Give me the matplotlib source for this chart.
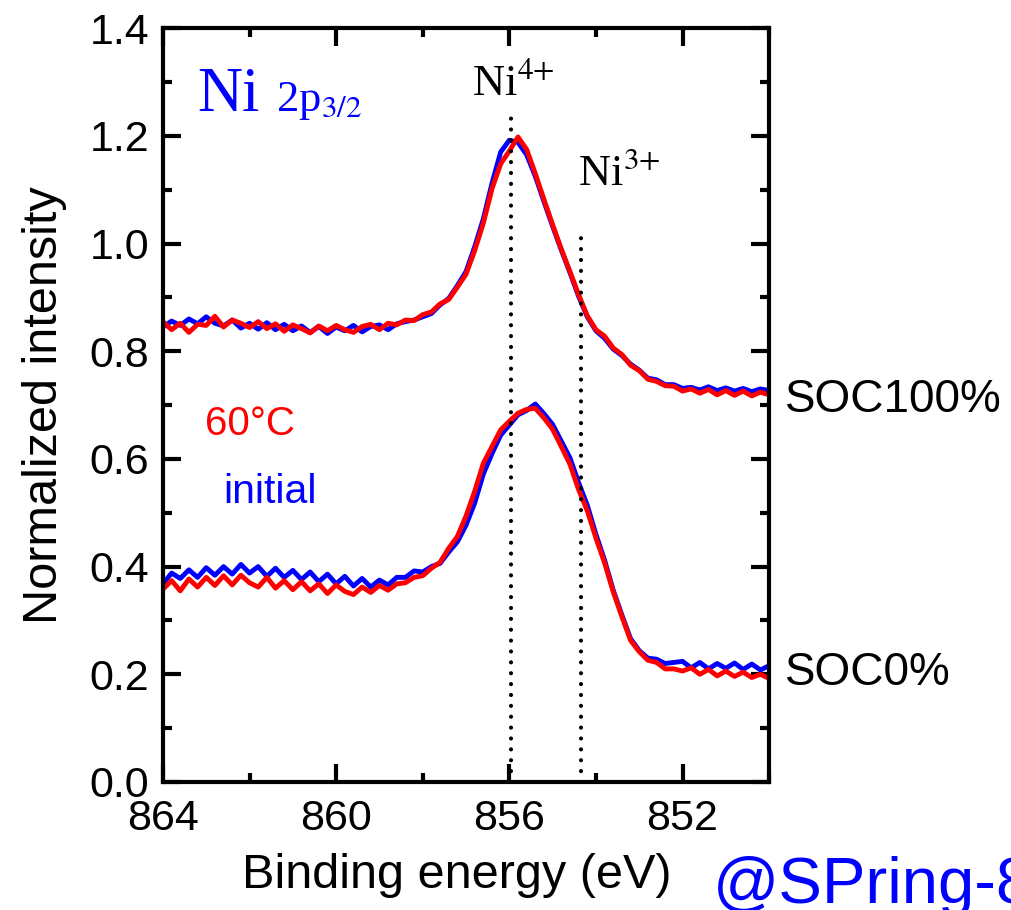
import numpy as np
import matplotlib
matplotlib.use("Agg")
import matplotlib.pyplot as plt
from matplotlib.ticker import MultipleLocator

plt.rcParams['font.family'] = ['Liberation Sans', 'DejaVu Sans']
plt.rcParams['mathtext.fontset'] = 'stix'

# binding energy grid (eV), 0.2 eV steps
energy = np.linspace(864, 850, 71)

# Ni 2p3/2 spectra, normalized
soc100_initial = [0.845, 0.856, 0.848, 0.860, 0.851, 0.864, 0.852, 0.847, 0.858, 0.843,
                  0.852, 0.841, 0.853, 0.840, 0.850, 0.838, 0.847, 0.835, 0.846, 0.833,
                  0.845, 0.838, 0.848, 0.836, 0.846, 0.849, 0.840, 0.851, 0.855, 0.858,
                  0.864, 0.870, 0.886, 0.898, 0.922, 0.948, 0.994, 1.046, 1.112, 1.170,
                  1.192, 1.188, 1.165, 1.125, 1.078, 1.032, 0.988, 0.946, 0.902, 0.864,
                  0.838, 0.824, 0.804, 0.792, 0.776, 0.765, 0.750, 0.747, 0.738, 0.738,
                  0.731, 0.733, 0.728, 0.734, 0.727, 0.732, 0.726, 0.731, 0.725, 0.730, 0.727]
soc100_60c = [0.855, 0.840, 0.852, 0.835, 0.850, 0.848, 0.865, 0.845, 0.858, 0.852,
              0.844, 0.855, 0.842, 0.851, 0.837, 0.849, 0.842, 0.834, 0.847, 0.838,
              0.848, 0.840, 0.835, 0.846, 0.850, 0.840, 0.852, 0.849, 0.858, 0.857,
              0.868, 0.873, 0.888, 0.896, 0.919, 0.943, 0.987, 1.038, 1.102, 1.148,
              1.172, 1.198, 1.175, 1.130, 1.082, 1.035, 0.990, 0.948, 0.905, 0.866,
              0.840, 0.828, 0.806, 0.794, 0.774, 0.764, 0.748, 0.744, 0.736, 0.735,
              0.726, 0.730, 0.722, 0.729, 0.719, 0.727, 0.718, 0.726, 0.717, 0.724, 0.719]
soc0_initial = [0.368, 0.388, 0.378, 0.394, 0.380, 0.398, 0.384, 0.400, 0.386, 0.404,
                0.388, 0.400, 0.382, 0.397, 0.380, 0.393, 0.376, 0.390, 0.372, 0.386,
                0.368, 0.382, 0.364, 0.378, 0.362, 0.375, 0.366, 0.380, 0.380, 0.392,
                0.390, 0.400, 0.406, 0.427, 0.446, 0.477, 0.518, 0.572, 0.610, 0.644,
                0.663, 0.682, 0.690, 0.702, 0.684, 0.664, 0.633, 0.602, 0.556, 0.514,
                0.460, 0.412, 0.356, 0.310, 0.266, 0.244, 0.230, 0.228, 0.220, 0.222,
                0.224, 0.212, 0.222, 0.210, 0.220, 0.211, 0.221, 0.209, 0.219, 0.208, 0.216]
soc0_60c = [0.358, 0.374, 0.355, 0.377, 0.362, 0.380, 0.365, 0.383, 0.366, 0.384,
            0.370, 0.362, 0.380, 0.360, 0.374, 0.357, 0.372, 0.355, 0.368, 0.350,
            0.366, 0.354, 0.348, 0.362, 0.352, 0.365, 0.356, 0.368, 0.370, 0.380,
            0.383, 0.397, 0.408, 0.434, 0.456, 0.494, 0.540, 0.592, 0.623, 0.654,
            0.670, 0.685, 0.692, 0.694, 0.676, 0.655, 0.623, 0.590, 0.543, 0.504,
            0.453, 0.407, 0.353, 0.307, 0.263, 0.242, 0.226, 0.222, 0.210, 0.210,
            0.206, 0.212, 0.200, 0.209, 0.197, 0.206, 0.196, 0.204, 0.194, 0.200, 0.192]

# peak positions for Ni4+ / Ni3+ guides
ni4_pos, ni4_top = 855.95, 1.25
ni3_pos, ni3_top = 854.35, 1.01

fig = plt.figure(figsize=(10.12, 9.10), dpi=100)
ax = fig.add_axes([0.161, 0.1407, 0.599, 0.8283])

ax.plot(energy, soc100_initial, color='blue', lw=3.5)
ax.plot(energy, soc0_initial, color='blue', lw=3.5)
ax.plot(energy, soc100_60c, color='red', lw=3.5)
ax.plot(energy, soc0_60c, color='red', lw=3.5)

dots = (0, (0.01, 2.6))
ax.plot([ni4_pos, ni4_pos], [0, ni4_top], color='black', lw=3, ls=dots,
        dash_capstyle='round')
ax.plot([ni3_pos, ni3_pos], [0, ni3_top], color='black', lw=3, ls=dots,
        dash_capstyle='round')

ax.set_xlim(864, 850)
ax.set_ylim(0, 1.4)
ax.xaxis.set_major_locator(MultipleLocator(4))
ax.xaxis.set_minor_locator(MultipleLocator(2))
ax.yaxis.set_major_locator(MultipleLocator(0.2))
ax.yaxis.set_minor_locator(MultipleLocator(0.1))
ax.yaxis.set_major_formatter(plt.FormatStrFormatter('%.1f'))

for s in ax.spines.values():
    s.set_linewidth(3)
ax.tick_params(which='both', direction='in', top=True, right=True, width=3)
ax.tick_params(which='major', length=13)
ax.tick_params(which='minor', length=6.5)
ax.tick_params(axis='y', labelsize=31, pad=10)
ax.tick_params(axis='x', labelsize=31, pad=12)

ax.set_xlabel('Binding energy (eV)', fontsize=35, labelpad=10)
ax.xaxis.label.set_x(0.485)
ax.set_ylabel('Normalized intensity', fontsize=35, labelpad=16)

serif = ['Liberation Serif', 'DejaVu Serif']
ax.text(863.2, 1.246, 'Ni', color='blue', fontsize=45, family=serif, va='baseline')
ax.text(861.4, 1.246, r'2p$_{3/2}$', color='blue', fontsize=32, family=serif, va='baseline')
ax.text(856.86, 1.276, r'Ni$^{4{+}}$', fontsize=32, family=serif, va='baseline')
ax.text(854.42, 1.108, r'Ni$^{3{+}}$', fontsize=32, family=serif, va='baseline')

ax.text(863.03, 0.644, '60°C', color='red', fontsize=29, va='baseline')
ax.text(862.6, 0.518, 'initial', color='blue', fontsize=29.5, va='baseline')

ax.text(849.64, 0.687, 'SOC100%', fontsize=33, va='baseline')
ax.text(849.64, 0.180, 'SOC0%', fontsize=33, va='baseline')

# watermark runs off the right edge of the figure
fig.text(0.7045, 0.0077, '@SPring-8', color='blue', fontsize=47, va='baseline')

fig.savefig('out.png', dpi=100)
